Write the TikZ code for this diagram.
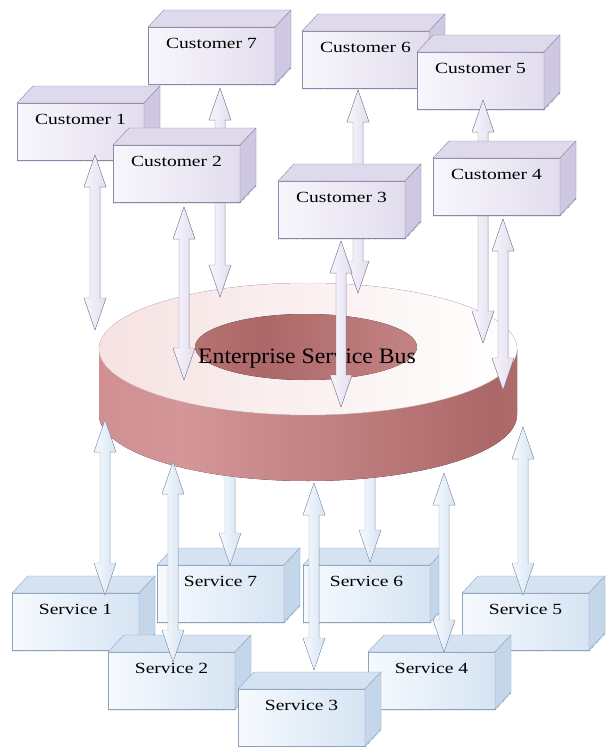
\documentclass[tikz,border=0pt]{standalone}
\usepackage{fontspec}
\newfontfamily\boxfont[FakeStretch=1.26]{Liberation Serif}
\newfontfamily\busfont[FakeStretch=1.08]{Liberation Serif}
\usetikzlibrary{calc}

\definecolor{custline}{RGB}{142,134,168}
\definecolor{custlight}{RGB}{248,246,252}
\definecolor{custface}{RGB}{226,221,238}
\definecolor{custtop}{RGB}{222,217,235}
\definecolor{custside}{RGB}{207,200,226}
\definecolor{servline}{RGB}{143,163,190}
\definecolor{servlight}{RGB}{246,250,254}
\definecolor{servface}{RGB}{214,228,243}
\definecolor{servtop}{RGB}{212,226,241}
\definecolor{servside}{RGB}{196,214,234}
\definecolor{ringtop}{RGB}{246,226,226}
\definecolor{ringside}{RGB}{199,128,128}
\definecolor{ringlight}{RGB}{212,150,152}
\definecolor{ringdark}{RGB}{172,104,104}

\pgfdeclarehorizontalshading{ringwall}{100bp}{color(0bp)=(ringside); color(35bp)=(ringlight); color(72bp)=(ringdark); color(100bp)=(ringside)}
\pgfdeclarehorizontalshading{ringhole}{100bp}{color(0bp)=(ringside); color(40bp)=(ringdark); color(100bp)=(ringlight)}

% a box seen from above: #1 cust or serv, #2 name, #3 front top left, #4 text
\newcommand{\crate}[4]{%
    \node[#1box, label={[boxtext]north:#4}] (#2) at (#3) {};
    \filldraw[draw=#1line, fill=#1top] (#2.north west) -- ++(16,-17) -- ++(127,0) -- (#2.north east) -- cycle;
    \filldraw[draw=#1line, fill=#1side] (#2.north east) -- ++(16,-17) -- ++(0,57) -- (#2.south east) -- cycle;
    \draw[#1line, densely dotted, thick] ([yshift=-1pt]#2.south west) -- ([yshift=-1pt]#2.south east) -- ++(16,-17);
}

% hollow double arrow from #2 (upper tip) to #3 (lower tip)
\newcommand{\busarrow}[3]{%
    \filldraw[#1] let \p1=(#2), \p2=(#3) in
        (\p1) -- (\x1+11pt,\y1-32pt) -- (\x1+5pt,\y1-32pt) -- (\x2+5pt,\y2+32pt)
        -- (\x2+11pt,\y2+32pt) -- (\p2) -- (\x2-11pt,\y2+32pt) -- (\x2-5pt,\y2+32pt)
        -- (\x1-5pt,\y1-32pt) -- (\x1-11pt,\y1-32pt) -- cycle;
}

\begin{document}
\begin{tikzpicture}[x=1pt, y=-1pt,
        custbox/.style={draw=custline, left color=custlight, right color=custface,
            minimum width=127pt, minimum height=57pt, inner sep=0pt, outer sep=0pt, anchor=north west},
        servbox/.style={draw=servline, left color=servlight, right color=servface,
            minimum width=127pt, minimum height=57pt, inner sep=0pt, outer sep=0pt, anchor=north west},
        boxtext/.style={anchor=north, yshift=-11pt, inner sep=0pt, font=\boxfont\fontsize{15.5}{18}\selectfont},
        custarrow/.style={draw=custline, left color=custlight, right color=custface},
        servarrow/.style={draw=servline, left color=servlight, right color=servface},
    ]
    \useasboundingbox (0,0) rectangle (606,747);

    % arrow end points
    \foreach \n/\x/\a/\b in {cust1/95/155/330, cust2/184/207/380, cust3/341/241/407,
            cust4/503/219/390, cust5/483/100/343, cust6/358/90/293, cust7/220/88/297,
            serv1/105/420/595, serv2/173/462/662, serv3/314/483/670, serv4/444/473/652,
            serv5/523/427/595, serv6/370/440/562, serv7/230/440/565} {
        \coordinate (\n-up) at (\x,\a);
        \coordinate (\n-down) at (\x,\b);
    }

    % services behind the bus
    \crate{serv}{serv7}{157,565}{Service 7}
    \crate{serv}{serv6}{303,565}{Service 6}
    \busarrow{servarrow}{serv7-up}{serv7-down}
    \busarrow{servarrow}{serv6-up}{serv6-down}

    % the bus
    \fill[shading=ringwall] (99,349) -- (99,415) arc[start angle=180, end angle=0, x radius=209, y radius=66] -- (517,349) -- cycle;
    \filldraw[draw=ringside!40, left color=ringtop, right color=white] (308,349) ellipse[x radius=209, y radius=66];
    \fill[shading=ringhole] (306,347) ellipse[x radius=111, y radius=33];
    \node[font=\busfont\fontsize{22}{26}\selectfont] (esb) at (307,359) {Enterprise Service Bus};

    % services
    \crate{serv}{serv1}{12,593}{Service 1}
    \crate{serv}{serv5}{462,593}{Service 5}
    \crate{serv}{serv4}{368,652}{Service 4}
    \crate{serv}{serv2}{108,652}{Service 2}
    \crate{serv}{serv3}{238,689}{Service 3}
    \busarrow{servarrow}{serv1-up}{serv1-down}
    \busarrow{servarrow}{serv2-up}{serv2-down}
    \busarrow{servarrow}{serv3-up}{serv3-down}
    \busarrow{servarrow}{serv4-up}{serv4-down}
    \busarrow{servarrow}{serv5-up}{serv5-down}

    % customers at the back
    \crate{cust}{cust7}{148,27}{Customer 7}
    \crate{cust}{cust6}{302,31}{Customer 6}
    \crate{cust}{cust5}{417,52}{Customer 5}
    \crate{cust}{cust1}{17,103}{Customer 1}
    \busarrow{custarrow}{cust7-up}{cust7-down}
    \busarrow{custarrow}{cust6-up}{cust6-down}
    \busarrow{custarrow}{cust5-up}{cust5-down}

    % customers in front
    \crate{cust}{cust2}{113,145}{Customer 2}
    \crate{cust}{cust3}{278,181}{Customer 3}
    \crate{cust}{cust4}{433,158}{Customer 4}
    \busarrow{custarrow}{cust1-up}{cust1-down}
    \busarrow{custarrow}{cust2-up}{cust2-down}
    \busarrow{custarrow}{cust3-up}{cust3-down}
    \busarrow{custarrow}{cust4-up}{cust4-down}
\end{tikzpicture}
\end{document}
